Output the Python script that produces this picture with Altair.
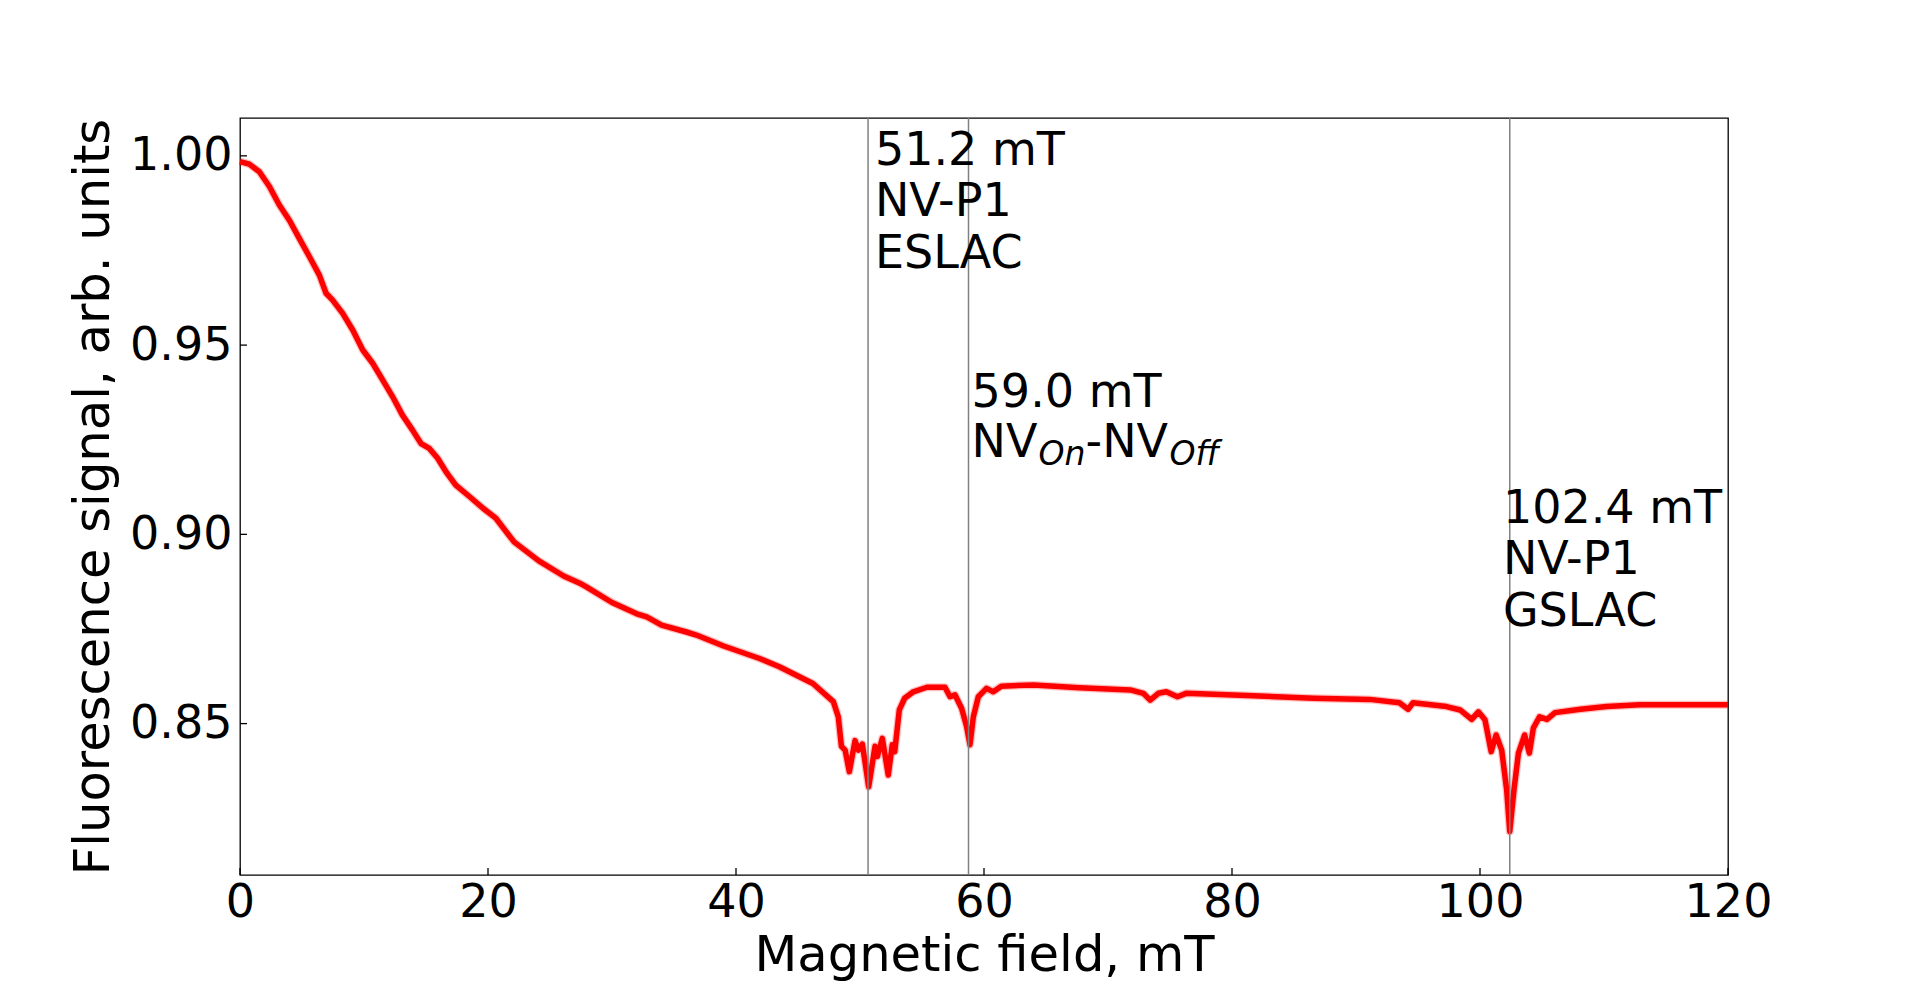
import altair as alt
import pandas as pd

# ---- data ----
field_mT = [0.0, 0.75, 1.56, 2.37, 3.17, 3.98, 4.78, 5.59, 6.4, 6.94, 7.47, 8.28, 9.09, 9.9,
            10.7, 11.5, 12.3, 13.1, 13.9, 14.6, 15.27, 15.94, 16.6, 17.4, 18.5, 19.6, 20.65,
            22.1, 24.1, 26.1, 27.4, 28.0, 30.0, 32.0, 32.8, 34.0, 36.0, 36.8, 39.0, 41.9,
            43.5, 46.2, 47.85, 48.25, 48.5, 48.8, 49.14, 49.6, 49.87, 50.19, 50.7, 51.21,
            51.4, 51.8, 52.28, 52.6, 52.8, 53.17, 53.6, 54.3, 55.4, 56.85, 57.26, 57.66,
            58.2, 58.6, 58.87, 59.14, 59.54, 60.2, 60.75, 61.4, 64.0, 67.7, 71.8, 72.85,
            73.4, 74.06, 74.7, 75.6, 76.3, 81.2, 86.6, 91.1, 93.5, 94.2, 94.6, 97.3, 98.4,
            99.33, 99.87, 100.4, 100.9, 101.3, 101.75, 102.15, 102.4, 102.74, 103.1, 103.6,
            103.98, 104.3, 104.8, 105.4, 106.05, 108.1, 110.2, 112.9, 115.6, 120.0]
signal = [0.9985, 0.9978, 0.9958, 0.9919, 0.987, 0.983, 0.9782, 0.9734, 0.9685, 0.9637, 0.9619,
          0.9584, 0.954, 0.9487, 0.9452, 0.9408, 0.9364, 0.9315, 0.9276, 0.924, 0.9227, 0.9201,
          0.9166, 0.913, 0.91, 0.9069, 0.9042, 0.898, 0.893, 0.889, 0.8871, 0.886, 0.882,
          0.879, 0.8782, 0.876, 0.8742, 0.8734, 0.8705, 0.8672, 0.865, 0.8606, 0.8558, 0.8518,
          0.844, 0.843, 0.8373, 0.8455, 0.843, 0.8446, 0.8333, 0.844, 0.8413, 0.8461, 0.8364,
          0.8444, 0.8426, 0.8536, 0.8567, 0.8584, 0.8596, 0.8596, 0.8571, 0.8576, 0.854,
          0.8492, 0.8444, 0.8518, 0.8571, 0.8593, 0.8584, 0.8599, 0.8602, 0.8595, 0.8589,
          0.858, 0.8562, 0.858, 0.8584, 0.8571, 0.858, 0.8574, 0.8567, 0.8564, 0.8555, 0.8538,
          0.8555, 0.8545, 0.8536, 0.8511, 0.8531, 0.851, 0.8426, 0.847, 0.843, 0.8325, 0.8215,
          0.8325, 0.8422, 0.847, 0.8422, 0.8488, 0.8518, 0.8511, 0.8529, 0.8538, 0.8545,
          0.855, 0.855, 0.855]

x_ticks = [0, 20, 40, 60, 80, 100, 120]
y_ticks = [0.85, 0.90, 0.95, 1.00]

marker_fields = [50.65, 58.75, 102.4]

label_fields = [51.2, 59.0, 101.85]
label_signals = [0.9976, 0.9336, 0.903]
label_texts = ["51.2 mT\nNV-P1\nESLAC", "59.0 mT", "102.4 mT\nNV-P1\nGSLAC"]

sub_field = 59.0
sub_signal = 0.9204
sub_texts = ["NV", "On", "-NV", "Off"]

# ---- chart ----
W, H = 1488, 757
FONT = "DejaVu Sans"

xscale = alt.Scale(domain=[0, 120], nice=False, zero=False)
yscale = alt.Scale(domain=[0.81, 1.01], nice=False, zero=False)

df = pd.DataFrame({"field": field_mT, "signal": signal})

x_axis = alt.Axis(values=x_ticks, format="d", title="Magnetic field, mT", ticks=False,
                  domain=False, grid=False, labelFont=FONT, labelFontSize=46,
                  labelColor="black", labelPadding=5, labelFlush=False, labelOverlap=False,
                  titleFont=FONT, titleFontSize=49.6, titleFontWeight="normal",
                  titleColor="black", titleX=W / 2, titleY=95, titleAlign="center",
                  titleBaseline="alphabetic")
y_axis = alt.Axis(values=y_ticks, format=".2f", title="Fluorescence signal, arb. units",
                  ticks=False, domain=False, grid=False, labelFont=FONT, labelFontSize=46,
                  labelColor="black", labelPadding=8, labelOverlap=False,
                  titleFont=FONT, titleFontSize=49.6, titleFontWeight="normal",
                  titleColor="black", titleAngle=270, titleX=-132, titleY=H / 2,
                  titleAlign="center", titleBaseline="alphabetic")

halo = alt.Chart(df).mark_line(color="#ff0000", strokeWidth=8, opacity=0.25,
                               strokeJoin="round").encode(
    x=alt.X("field:Q", scale=xscale, axis=x_axis),
    y=alt.Y("signal:Q", scale=yscale, axis=y_axis),
)
curve = alt.Chart(df).mark_line(color="#ff0000", strokeWidth=5.5, strokeJoin="round").encode(
    x=alt.X("field:Q", scale=xscale),
    y=alt.Y("signal:Q", scale=yscale),
)

markers = alt.Chart(pd.DataFrame({"field": marker_fields})).mark_rule(
    color="#808080", strokeWidth=1.5
).encode(x=alt.X("field:Q", scale=xscale))

xt = alt.Chart(pd.DataFrame({"field": x_ticks})).mark_rule(color="black", strokeWidth=1.3).encode(
    x=alt.X("field:Q", scale=xscale), y=alt.value(H), y2=alt.value(H - 7)
)
yt = alt.Chart(pd.DataFrame({"signal": y_ticks})).mark_rule(color="black", strokeWidth=1.3).encode(
    y=alt.Y("signal:Q", scale=yscale), x=alt.value(0), x2=alt.value(7)
)

labels = alt.Chart(pd.DataFrame({"field": label_fields, "signal": label_signals,
                                 "text": label_texts})).mark_text(
    align="left", baseline="alphabetic", font=FONT, fontSize=46, lineBreak="\n",
    lineHeight=51.5, color="black"
).encode(x=alt.X("field:Q", scale=xscale), y=alt.Y("signal:Q", scale=yscale), text="text:N")

sub_styles = [
    dict(dx=0, dy=0, fontSize=46, fontStyle="normal"),
    dict(dx=67, dy=8, fontSize=33, fontStyle="italic"),
    dict(dx=114, dy=0, fontSize=46, fontStyle="normal"),
    dict(dx=198, dy=8, fontSize=33, fontStyle="italic"),
]
sub_layers = []
for t, st in zip(sub_texts, sub_styles):
    sub_layers.append(
        alt.Chart(pd.DataFrame({"field": [sub_field], "signal": [sub_signal], "text": [t]}))
        .mark_text(align="left", baseline="alphabetic", font=FONT, color="black", **st)
        .encode(x=alt.X("field:Q", scale=xscale), y=alt.Y("signal:Q", scale=yscale),
                text="text:N")
    )

chart = alt.layer(halo, curve, markers, xt, yt, labels, *sub_layers).properties(
    width=W, height=H,
    autosize=alt.AutoSizeParams(type="none"),
    padding={"left": 232, "top": 110, "right": 184, "bottom": 107},
    background="white",
).configure_view(stroke="black", strokeWidth=1.3)

chart.save("out.html", embed_options={"renderer": "svg", "actions": False})
